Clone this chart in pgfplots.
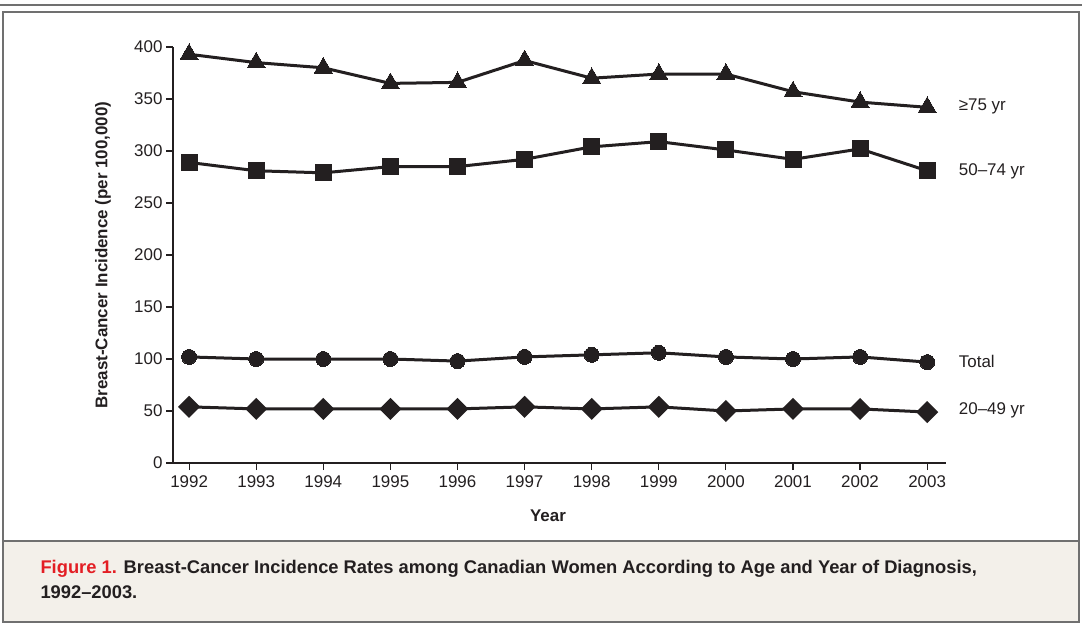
\documentclass[border=0pt]{standalone}
\usepackage{pgfplots}
\pgfplotsset{compat=1.18}
\usepackage{fontspec}
\setmainfont{Liberation Sans}
\definecolor{ink}{HTML}{231F20}
\definecolor{framegray}{HTML}{707070}
\definecolor{capbg}{HTML}{F3F0EA}
\definecolor{figred}{HTML}{E31E24}
\begin{document}
\begin{tikzpicture}
\path[use as bounding box] (0,0) rectangle (1082bp,-625bp);
% frame and caption box
\fill[capbg] (3bp,-541bp) rectangle (1079bp,-622bp);
\draw[framegray, line width=2.5bp] (0,-5bp) -- (1082bp,-5bp);
\draw[framegray, line width=1.5bp] (3bp,-622bp) rectangle (1079bp,-12bp);
\draw[framegray, line width=2.5bp] (3bp,-12bp) -- (1079bp,-12bp);
\draw[framegray, line width=2bp] (3bp,-541bp) -- (1079bp,-541bp);
\begin{axis}[
	at={(173bp,-463bp)}, anchor=south west,
	scale only axis, width=773bp, height=416bp,
	xmin=1991.76, xmax=2003.28, ymin=0, ymax=400,
	axis lines*=left,
	axis line style={ink, line width=1.4bp},
	xtick={1992,...,2003}, ytick={0,50,...,400},
	tick align=outside, major tick length=7bp,
	tick style={ink, line width=1.2bp},
	/pgf/number format/1000 sep={},
	/pgf/number format/assume math mode=true,
	tick label style={font=\fontsize{17}{20}\selectfont, text=ink},
	xticklabel style={yshift=-2bp},
	clip=false,
	every axis plot/.append style={ink, line width=3bp, mark options={solid, ink, line width=0pt}},
]
\addplot[mark=triangle*, mark size=10.4bp] coordinates {
	(1992,393) (1993,385) (1994,380) (1995,365) (1996,366) (1997,387)
	(1998,370) (1999,374) (2000,374) (2001,357) (2002,347) (2003,342)
};
\addplot[mark=square*, mark size=8bp] coordinates {
	(1992,289) (1993,281) (1994,279) (1995,285) (1996,285) (1997,292)
	(1998,304) (1999,309) (2000,301) (2001,292) (2002,302) (2003,281)
};
\addplot[mark=*, mark size=7.5bp] coordinates {
	(1992,102) (1993,100) (1994,100) (1995,100) (1996,98) (1997,102)
	(1998,104) (1999,106) (2000,102) (2001,100) (2002,102) (2003,97)
};
\addplot[mark=square*, mark size=6.3bp, mark options={rotate=45}] coordinates {
	(1992,54) (1993,52) (1994,52) (1995,52) (1996,52) (1997,54)
	(1998,52) (1999,54) (2000,50) (2001,52) (2002,52) (2003,49)
};
\begin{scope}[every node/.style={anchor=west, text=ink, font=\fontsize{17}{20}\selectfont}]
\node at (axis cs:2003.42,343) {≥75 yr};
\node at (axis cs:2003.42,280) {50–74 yr};
\node at (axis cs:2003.42,98) {Total};
\node at (axis cs:2003.42,51) {20–49 yr};
\end{scope}
\end{axis}
\node[rotate=90, text=ink, font=\bfseries\fontsize{17}{20}\selectfont] at (103bp,-255bp) {Breast-Cancer Incidence (per 100,000)};
\node[text=ink, font=\bfseries\fontsize{17}{20}\selectfont] at (548bp,-516bp) {Year};
\node[anchor=base west, text=ink, font=\bfseries\fontsize{18.4}{22}\selectfont] at (37bp,-573bp) {\textcolor{figred}{Figure 1.} Breast-Cancer Incidence Rates among Canadian Women According to Age and Year of Diagnosis,};
\node[anchor=base west, text=ink, font=\bfseries\fontsize{18.4}{22}\selectfont] at (37bp,-598bp) {1992–2003.};
\end{tikzpicture}
\end{document}
